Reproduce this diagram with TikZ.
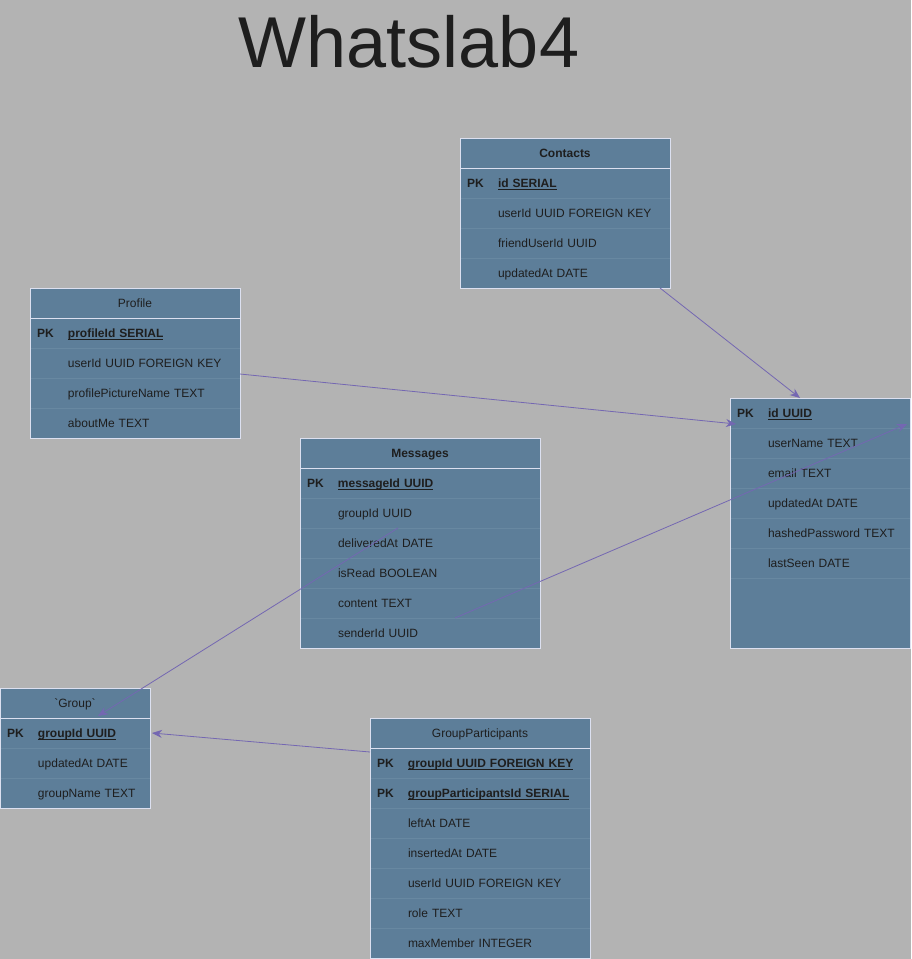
\documentclass[tikz,border=0pt]{standalone}
\usepackage{fontspec}
\setmainfont{Liberation Sans}
\usetikzlibrary{arrows.meta,calc}

\definecolor{bgGray}{RGB}{179,179,179}
\definecolor{tblFill}{RGB}{93,126,153}
\definecolor{tblLine}{RGB}{104,136,161}
\definecolor{tblEdge}{RGB}{220,224,240}
\definecolor{txtDark}{RGB}{30,30,30}
\definecolor{linkPurple}{RGB}{116,103,178}

\begin{document}
\begin{tikzpicture}[x=1pt, y=-1pt,
  every node/.style={font=\fontsize{12}{14}\selectfont, text=txtDark, outer sep=0pt},
  tbl/.style={fill=tblFill, anchor=north west, inner sep=0pt},
  hdr/.style={draw=tblEdge, line width=0.8pt, anchor=north west, inner sep=0pt,
    minimum height=30pt, text height=10pt, text depth=1pt},
  fld/.style={draw=tblLine, line width=0.8pt, fill=tblFill, anchor=north west,
    inner xsep=7pt, inner ysep=0pt, minimum height=30pt, align=left,
    text height=10pt, text depth=1pt},
  tblframe/.style={draw=tblEdge, line width=1pt},
  link/.style={draw=linkPurple, line width=0.8pt, -{Stealth[length=10pt,width=8pt]}}]
  \useasboundingbox[fill=bgGray] (0,0) rectangle (911,959);
  \clip (0,0) rectangle (911,959);

  % Title
  \node[font=\fontsize{72}{80}\selectfont] (title) at (409,42) {Whatslab4};

  % Contacts table
  \node[tbl, minimum width=210pt, minimum height=150pt] (contacts) at (460,138) {};
  \foreach \i/\k/\t in {1/{\textbf{PK}}/{\textbf{\underline{\smash{id SERIAL}}}},
      2/{}/{userId UUID FOREIGN KEY}, 3/{}/{friendUserId UUID}, 4/{}/{updatedAt DATE}} {
    \node[fld, text width=196pt] (contacts\i) at (460,{138+30*\i}) {\makebox[31pt][l]{\k}\t};
  }
  \node[hdr, minimum width=210pt, font=\fontsize{12}{14}\selectfont\bfseries] (contactsHead) at (460,138) {Contacts};
  \draw[tblframe] (contacts.north west) rectangle (contacts.south east);

  % Profile table
  \node[tbl, minimum width=210pt, minimum height=150pt] (profile) at (30,288) {};
  \foreach \i/\k/\t in {1/{\textbf{PK}}/{\textbf{\underline{\smash{profileId SERIAL}}}},
      2/{}/{userId UUID FOREIGN KEY}, 3/{}/{profilePictureName TEXT}, 4/{}/{aboutMe TEXT}} {
    \node[fld, text width=196pt] (profile\i) at (30,{288+30*\i}) {\makebox[31pt][l]{\k}\t};
  }
  \node[hdr, minimum width=210pt] (profileHead) at (30,288) {Profile};
  \draw[tblframe] (profile.north west) rectangle (profile.south east);

  % Users table (header out of view)
  \node[tbl, minimum width=180pt, minimum height=250pt] (users) at (730,398) {};
  \foreach \i/\k/\t in {1/{\textbf{PK}}/{\textbf{\underline{\smash{id UUID}}}},
      2/{}/{userName TEXT}, 3/{}/{email TEXT}, 4/{}/{updatedAt DATE},
      5/{}/{hashedPassword TEXT}, 6/{}/{lastSeen DATE}} {
    \node[fld, text width=166pt] (users\i) at (730,{368+30*\i}) {\makebox[31pt][l]{\k}\t};
  }
  \draw[tblframe] (users.north west) rectangle (users.south east);

  % Messages table
  \node[tbl, minimum width=240pt, minimum height=210pt] (messages) at (300,438) {};
  \foreach \i/\k/\t in {1/{\textbf{PK}}/{\textbf{\underline{\smash{messageId UUID}}}},
      2/{}/{groupId UUID}, 3/{}/{deliveredAt DATE}, 4/{}/{isRead BOOLEAN},
      5/{}/{content TEXT}, 6/{}/{senderId UUID}} {
    \node[fld, text width=226pt] (messages\i) at (300,{438+30*\i}) {\makebox[31pt][l]{\k}\t};
  }
  \node[hdr, minimum width=240pt, font=\fontsize{12}{14}\selectfont\bfseries] (messagesHead) at (300,438) {Messages};
  \draw[tblframe] (messages.north west) rectangle (messages.south east);

  % Group table
  \node[tbl, minimum width=150pt, minimum height=120pt] (group) at (0,688) {};
  \foreach \i/\k/\t in {1/{\textbf{PK}}/{\textbf{\underline{\smash{groupId UUID}}}},
      2/{}/{updatedAt DATE}, 3/{}/{groupName TEXT}} {
    \node[fld, text width=136pt] (group\i) at (0,{688+30*\i}) {\makebox[31pt][l]{\k}\t};
  }
  \node[hdr, minimum width=150pt] (groupHead) at (0,688) {\textasciigrave Group\textasciigrave};
  \draw[tblframe] (group.north west) rectangle (group.south east);

  % GroupParticipants table
  \node[tbl, minimum width=220pt, minimum height=240pt] (groupPart) at (370,718) {};
  \foreach \i/\k/\t in {1/{\textbf{PK}}/{\textbf{\underline{\smash{groupId UUID FOREIGN KEY}}}},
      2/{\textbf{PK}}/{\textbf{\underline{\smash{groupParticipantsId SERIAL}}}},
      3/{}/{leftAt DATE}, 4/{}/{insertedAt DATE}, 5/{}/{userId UUID FOREIGN KEY},
      6/{}/{role TEXT}, 7/{}/{maxMember INTEGER}} {
    \node[fld, text width=206pt] (groupPart\i) at (370,{718+30*\i}) {\makebox[31pt][l]{\k}\t};
  }
  \node[hdr, minimum width=220pt] (groupPartHead) at (370,718) {GroupParticipants};
  \draw[tblframe] (groupPart.north west) rectangle (groupPart.south east);

  % Relations
  \draw[link] ($(contacts.south east)+(-10,0)$) -- ($(users1.north west)+(70,0)$);
  \draw[link] ($(profile2.south east)+(0,-4)$) -- ($(users1.south west)+(6,-4)$);
  \draw[link] ($(messages6.north west)+(155,0)$) -- ($(users1.south east)+(-3,-4)$);
  \draw[link] ($(messages2.south west)+(98,0)$) -- ($(groupHead.south west)+(98,-2)$);
  \draw[link] ($(groupPart1.north west)+(0,4)$) -- ($(group1.east)+(2,0)$);
\end{tikzpicture}
\end{document}
